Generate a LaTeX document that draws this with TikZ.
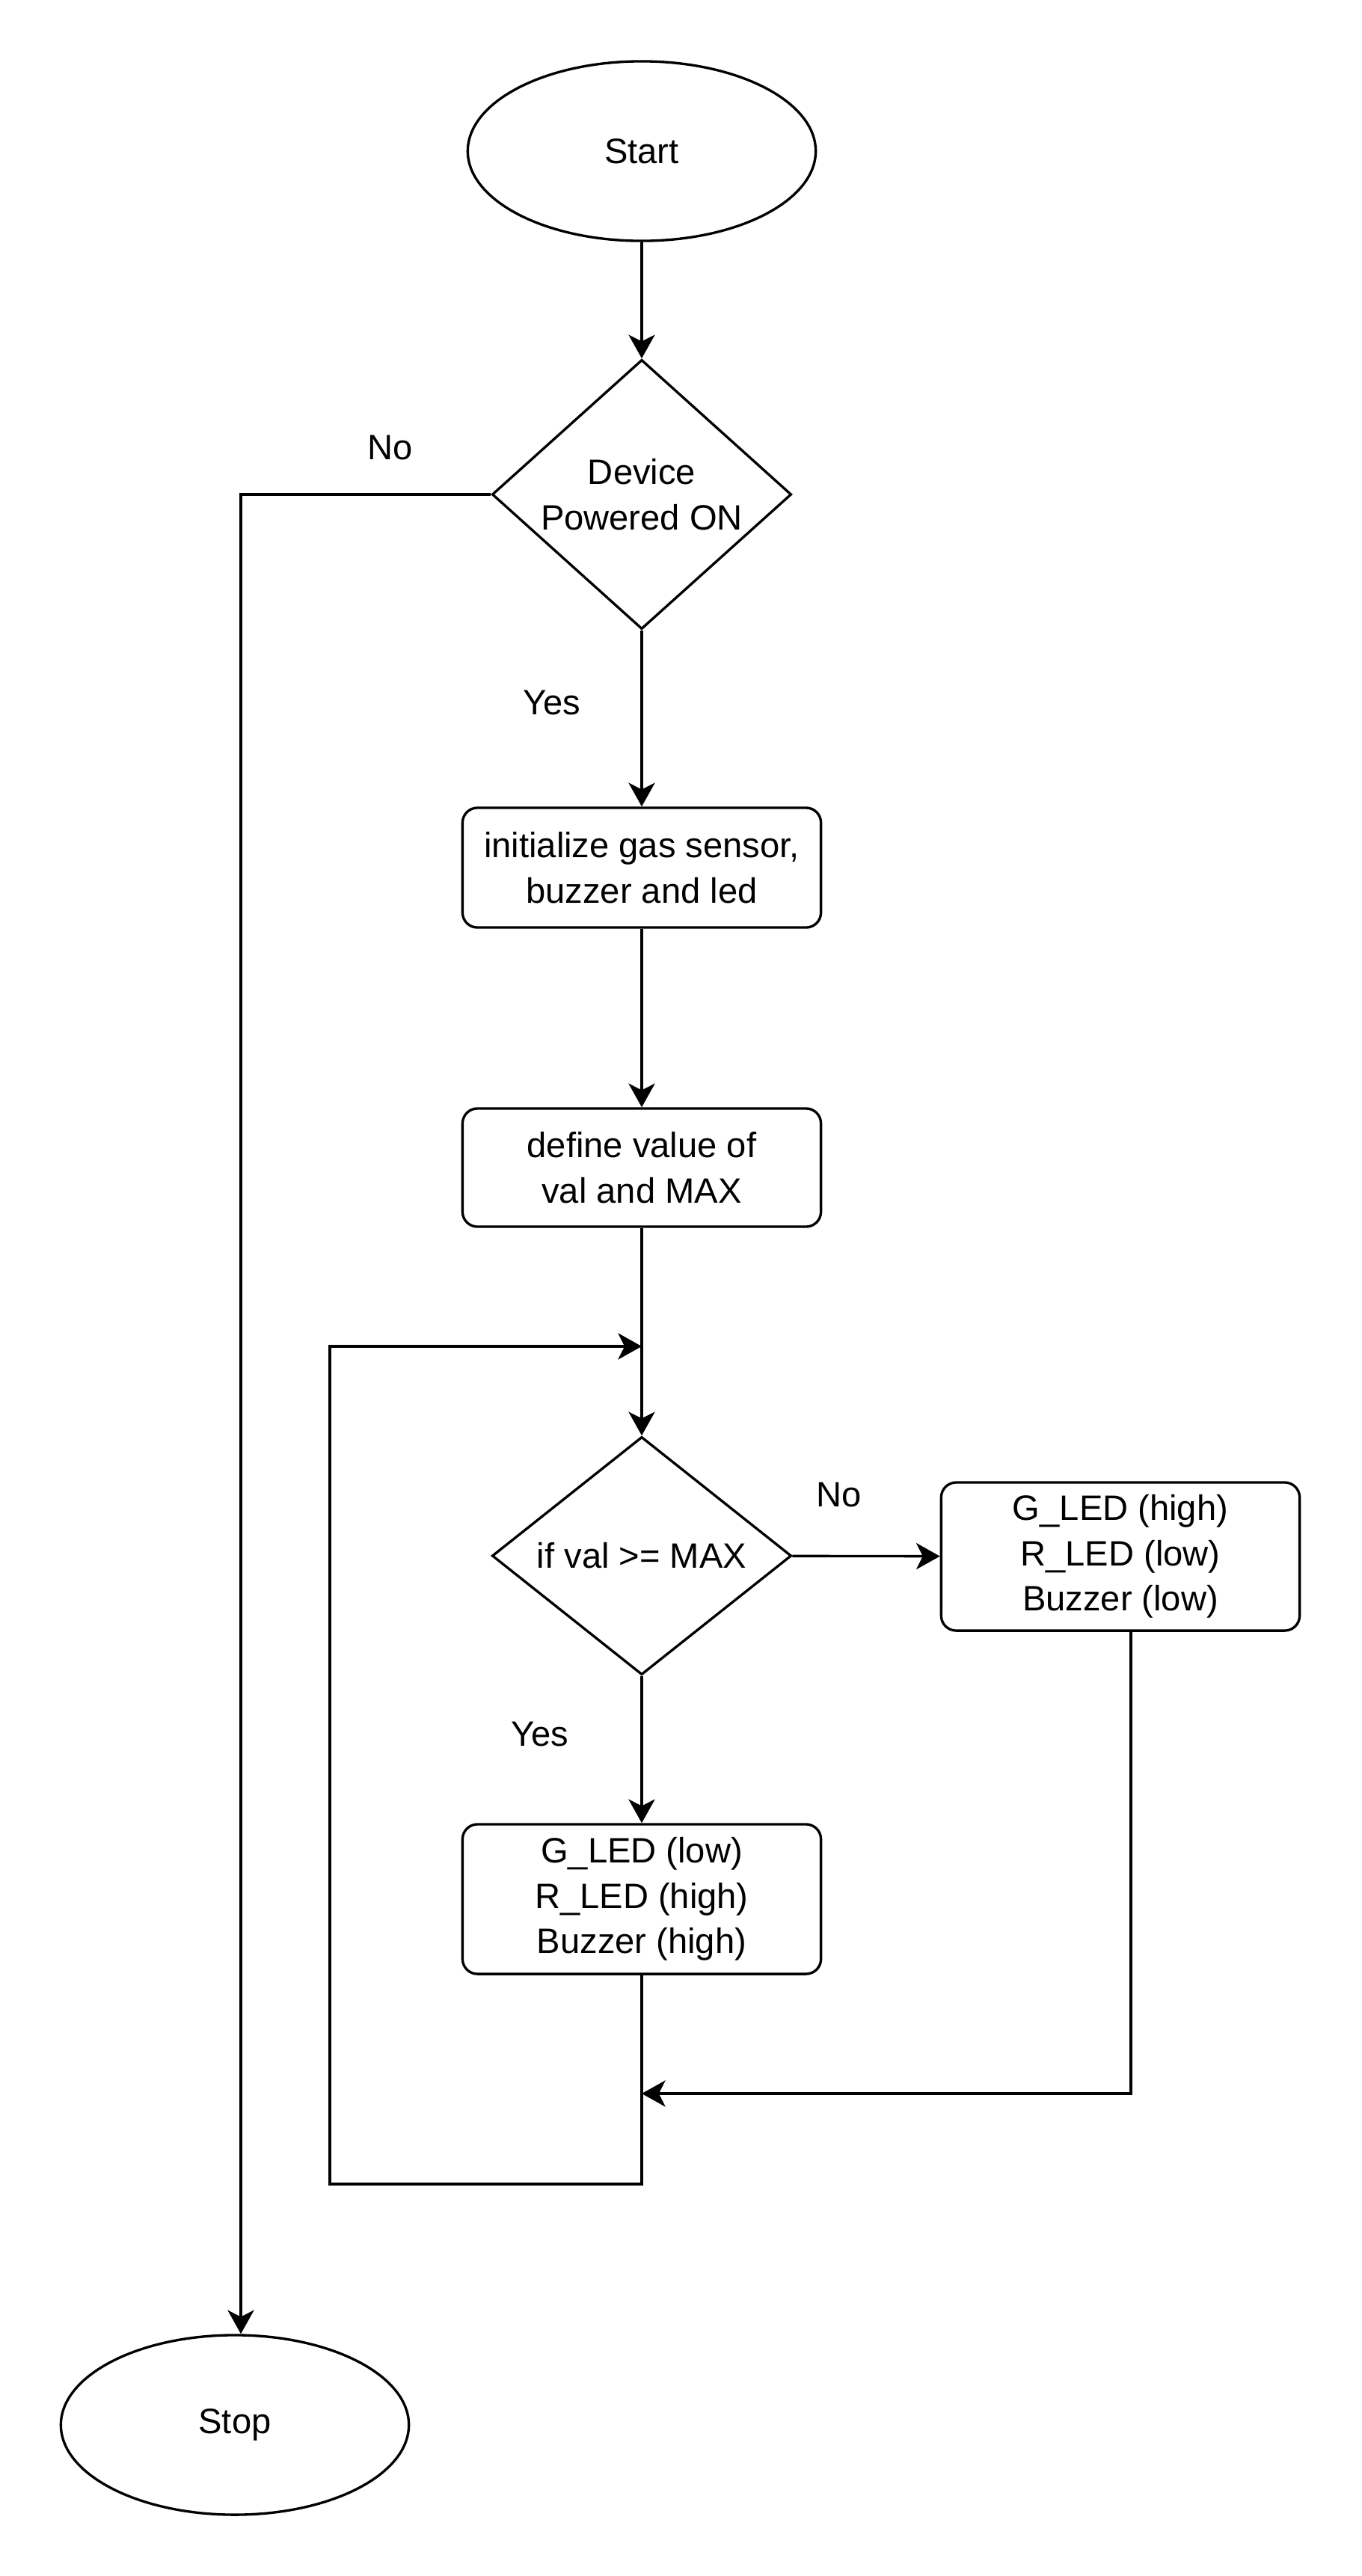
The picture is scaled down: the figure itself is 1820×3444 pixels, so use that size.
\documentclass[tikz,border=0pt]{standalone}
\usepackage{fontspec}
\setmainfont{Liberation Sans}
\usetikzlibrary{shapes.geometric,arrows.meta}
\begin{document}
\begin{tikzpicture}[x=0.01cm,y=-0.01cm,
    every node/.style={font=\fontsize{13.4}{17.2}\selectfont,align=center},
    terminal/.style={draw,line width=0.95pt,ellipse,inner sep=0pt,minimum width=4.65cm,minimum height=2.4cm},
    decision/.style={draw,line width=0.95pt,diamond,aspect=1.111,inner sep=0pt,minimum width=4cm},
    flowbox/.style={draw,line width=0.95pt,rounded corners=0.2cm,inner sep=0pt,minimum width=4.79cm},
    arr/.style={line width=0.95pt,-{Stealth[length=9pt,width=10pt,inset=2.5pt]}},
    flowline/.style={line width=0.95pt}]
    \useasboundingbox (0,0) rectangle (1820,3444);

    % main column
    \node[terminal] (start) at (858,202) {Start};
    \node[decision,minimum height=3.6cm] (d1) at (858,661) {Device\\Powered ON};
    \node[flowbox,minimum height=1.6cm] (init) at (858,1160) {initialize gas sensor,\\buzzer and led};
    \node[flowbox,minimum height=1.58cm] (define) at (858,1561) {define value of\\val and MAX};
    \coordinate (join) at (858,1800);
    \node[decision,minimum height=3.18cm] (d2) at (858,2080) {if val >= MAX};
    \node[flowbox,minimum height=1.98cm] (rbox) at (1498,2081) {G\_LED (high)\\R\_LED (low)\\Buzzer (low)};
    \node[flowbox,minimum height=2cm] (act) at (858,2539) {G\_LED (low)\\R\_LED (high)\\Buzzer (high)};
    \node[terminal] (stop) at (314,3242) {Stop};

    % labels
    \node (no1) at (522,599) {No};
    \node (yes1) at (738,940) {Yes};
    \node (no2) at (1122,1998) {No};
    \node (yes2) at (722,2318) {Yes};

    % straight arrows
    \foreach \a/\b in {start/d1,d1/init,init/define,define/d2,d2/act,d2/rbox}
        \draw[arr] (\a) -- (\b);

    % No branch to Stop
    \coordinate (nobend) at (322,661);
    \draw[arr] (d1.west) -- (nobend) -- (nobend |- stop.north);

    % right branch back to the column
    \coordinate (rx) at (1512,2799);
    \draw[arr] (rbox.south -| rx) -- (rx) -- (rx -| act);

    % loop back to the top of the check
    \coordinate (loopa) at (858,2920);
    \coordinate (loopb) at (441,2920);
    \draw[arr] (act) -- (loopa) -- (loopb) -- (loopb |- join) -- (join);
\end{tikzpicture}
\end{document}
